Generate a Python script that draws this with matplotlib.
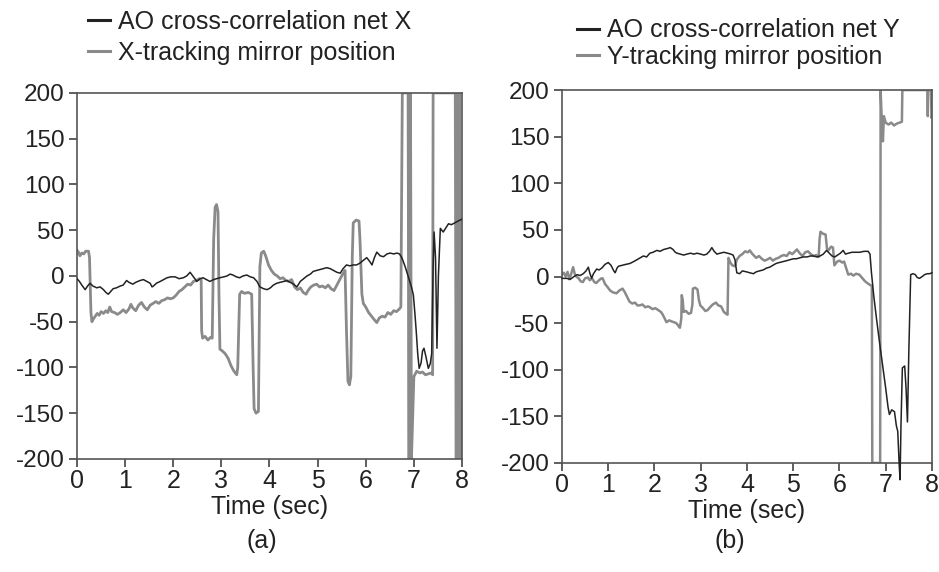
import matplotlib
matplotlib.use('Agg')
import matplotlib.pyplot as plt

plt.rcParams.update({
    'font.family': ['Liberation Sans', 'DejaVu Sans'],
    'axes.linewidth': 1.2,
})

BLACK = '#222222'
GRAY = '#8a8a8a'
SPINE = '#555555'

# panel (a): X axis
AX_GRAY_T = [0.00, 0.03, 0.06, 0.10, 0.14, 0.18, 0.24, 0.26, 0.29, 0.31, 0.34, 0.38, 0.42, 0.46,
             0.50, 0.55, 0.60, 0.64, 0.68, 0.72, 0.78, 0.84, 0.90, 0.96, 1.02, 1.08, 1.12, 1.16,
             1.22, 1.28, 1.34, 1.40, 1.46, 1.52, 1.58, 1.64, 1.70, 1.76, 1.82, 1.88, 1.94, 2.00,
             2.06, 2.12, 2.18, 2.24, 2.30, 2.36, 2.42, 2.48, 2.54, 2.58, 2.59, 2.61, 2.66, 2.72,
             2.78, 2.81, 2.84, 2.87, 2.90, 2.93, 2.95, 2.97, 3.02, 3.08, 3.14, 3.20, 3.26, 3.32,
             3.34, 3.38, 3.42, 3.48, 3.56, 3.63, 3.66, 3.68, 3.72, 3.77, 3.80, 3.83, 3.88, 3.92,
             3.98, 4.04, 4.10, 4.16, 4.22, 4.28, 4.34, 4.40, 4.46, 4.52, 4.58, 4.64, 4.70, 4.76,
             4.80, 4.86, 4.92, 4.98, 5.04, 5.10, 5.16, 5.22, 5.28, 5.34, 5.40, 5.46, 5.52, 5.57,
             5.60, 5.63, 5.66, 5.69, 5.72, 5.74, 5.80, 5.86, 5.88, 5.92, 5.95, 6.00, 6.06, 6.12,
             6.18, 6.23, 6.28, 6.34, 6.40, 6.46, 6.52, 6.58, 6.64, 6.70, 6.73, 6.76, 6.82, 6.88,
             6.90, 6.91, 6.92, 6.93, 6.95, 7.00, 7.06, 7.12, 7.18, 7.24, 7.30, 7.36, 7.39, 7.40,
             7.60, 7.86, 7.88, 7.89, 7.91, 7.92, 7.94, 7.95, 7.97, 7.98, 8.00]
AX_GRAY_V = [28, 26, 22, 25, 24, 27, 27, 20, -40, -50, -47, -44, -41, -43,
             -39, -41, -38, -40, -34, -39, -40, -42, -40, -37, -40, -36, -31, -35,
             -38, -32, -29, -34, -37, -32, -30, -28, -30, -27, -26, -24, -25, -24,
             -21, -17, -15, -12, -9, -10, -6, -5, -3, -4, -60, -68, -66, -70,
             -67, -68, 40, 75, 78, 70, -20, -80, -82, -85, -90, -98, -104, -108,
             -100, -20, -17, -19, -18, -20, -100, -145, -150, -148, 10, 25, 27, 22,
             12, 6, 2, 0, -3, -2, -5, -6, -4, -12, -15, -13, -18, -20,
             -16, -12, -10, -9, -12, -11, -13, -10, -14, -16, -10, -4, 2, 6,
             -60, -115, -119, -110, 20, 58, 61, 60, 40, -20, -30, -34, -40, -44,
             -48, -51, -46, -44, -45, -40, -42, -38, -39, -36, -34, 200, 200, 200,
             -200, 200, -200, 200, -200, -110, -104, -106, -105, -108, -107, -106, -108, 200,
             200, 200, -200, 200, -200, 200, -200, 200, -200, -150, -140]

AX_BLACK_T = [0.00, 0.05, 0.10, 0.17, 0.22, 0.27, 0.33, 0.41, 0.48, 0.55, 0.60, 0.65, 0.70, 0.75,
              0.82, 0.90, 0.96, 1.03, 1.08, 1.16, 1.22, 1.31, 1.38, 1.45, 1.52, 1.56, 1.59, 1.65,
              1.73, 1.80, 1.87, 1.95, 2.04, 2.12, 2.21, 2.28, 2.35, 2.42, 2.49, 2.56, 2.62, 2.69,
              2.76, 2.84, 2.90, 2.97, 3.05, 3.12, 3.18, 3.24, 3.31, 3.38, 3.45, 3.53, 3.60, 3.67,
              3.74, 3.80, 3.88, 3.95, 4.02, 4.08, 4.15, 4.22, 4.30, 4.36, 4.43, 4.50, 4.57, 4.64,
              4.71, 4.78, 4.85, 4.91, 4.98, 5.05, 5.12, 5.19, 5.26, 5.33, 5.40, 5.47, 5.53, 5.60,
              5.67, 5.74, 5.81, 5.88, 5.95, 6.02, 6.08, 6.13, 6.18, 6.23, 6.30, 6.37, 6.44, 6.51,
              6.58, 6.65, 6.70, 6.75, 6.82, 6.89, 6.95, 6.99, 7.02, 7.05, 7.08, 7.11, 7.15, 7.18,
              7.21, 7.25, 7.30, 7.34, 7.37, 7.40, 7.42, 7.45, 7.48, 7.51, 7.55, 7.58, 7.61, 7.66,
              7.72, 7.78, 7.85, 7.92, 8.00]
AX_BLACK_V = [-3, -6, -10, -15, -11, -8, -11, -13, -12, -15, -18, -20, -17, -14,
              -13, -11, -10, -5, -7, -9, -7, -5, -4, -6, -8, -12, -11, -8,
              -6, -4, -2, -1, -1, -3, -2, 0, 4, -1, -6, -3, -2, -4,
              -6, -4, -3, -2, -1, 0, 2, 1, -1, -2, 0, 1, -1, -2,
              -6, -12, -14, -15, -13, -10, -8, -7, -6, -5, -7, -9, -12, -6,
              -3, 0, 2, 5, 6, 7, 8, 9, 8, 6, 4, 3, 8, 12,
              11, 12, 12, 14, 17, 20, 16, 12, 20, 26, 22, 21, 24, 25,
              24, 25, 24, 20, 10, -2, -12, -21, -40, -61, -85, -101, -95, -82,
              -79, -88, -101, -96, -85, 10, 48, 20, -79, 0, 52, 50, 48, 52,
              57, 56, 58, 60, 62]

# panel (b): Y axis
BY_GRAY_T = [0.00, 0.04, 0.08, 0.12, 0.16, 0.20, 0.24, 0.28, 0.31, 0.36, 0.40, 0.45, 0.50, 0.56,
             0.60, 0.65, 0.70, 0.74, 0.80, 0.85, 0.88, 0.93, 0.98, 1.04, 1.10, 1.18, 1.24, 1.31,
             1.36, 1.41, 1.46, 1.52, 1.58, 1.63, 1.68, 1.74, 1.80, 1.86, 1.90, 1.96, 2.02, 2.08,
             2.14, 2.18, 2.22, 2.26, 2.32, 2.36, 2.42, 2.47, 2.52, 2.55, 2.58, 2.59, 2.61, 2.63,
             2.68, 2.74, 2.79, 2.82, 2.83, 2.88, 2.93, 2.96, 2.99, 3.05, 3.10, 3.15, 3.20, 3.26,
             3.33, 3.38, 3.44, 3.50, 3.55, 3.58, 3.60, 3.63, 3.68, 3.74, 3.78, 3.84, 3.90, 3.96,
             4.02, 4.06, 4.12, 4.20, 4.26, 4.32, 4.38, 4.43, 4.50, 4.56, 4.62, 4.68, 4.74, 4.80,
             4.86, 4.92, 4.98, 5.04, 5.08, 5.14, 5.20, 5.26, 5.32, 5.38, 5.44, 5.50, 5.55, 5.57,
             5.59, 5.64, 5.70, 5.73, 5.76, 5.82, 5.86, 5.89, 5.95, 6.00, 6.06, 6.10, 6.15, 6.19,
             6.25, 6.30, 6.36, 6.43, 6.50, 6.55, 6.60, 6.66, 6.70, 6.71, 6.88, 6.89, 6.92, 6.94,
             6.96, 7.00, 7.06, 7.12, 7.18, 7.24, 7.30, 7.35, 7.36, 7.90, 7.91, 7.92, 7.98, 7.99,
             8.00]
BY_GRAY_V = [2, 4, 0, 5, -3, 3, 10, 2, 0, -2, -5, -6, -2, -1,
             -4, -2, -6, -7, -4, -2, -2, -8, -11, -15, -17, -18, -15, -13,
             -17, -22, -27, -29, -28, -31, -31, -30, -33, -32, -33, -35, -34, -36,
             -38, -41, -45, -49, -47, -48, -49, -50, -53, -55, -45, -20, -25, -38,
             -37, -40, -39, -30, -13, -12, -14, -25, -31, -34, -37, -36, -33, -30,
             -28, -31, -32, -38, -40, -41, 20, 16, 12, 11, 18, 22, 24, 27,
             26, 28, 24, 20, 22, 19, 17, 18, 20, 17, 19, 20, 22, 23,
             22, 26, 24, 27, 29, 25, 22, 26, 27, 24, 22, 23, 21, 40,
             48, 46, 45, 30, 28, 32, 31, 12, 16, 17, 15, 16, 8, 2,
             3, 1, 3, 2, -2, -5, -7, -9, -10, -200, -200, 200, 160, 145,
             172, 165, 163, 165, 162, 164, 165, 166, 200, 200, 172, 200, 200, 170,
             172]

BY_BLACK_T = [0.00, 0.10, 0.18, 0.26, 0.33, 0.39, 0.46, 0.52, 0.57, 0.60, 0.64, 0.68, 0.75, 0.80,
              0.86, 0.93, 1.00, 1.06, 1.12, 1.15, 1.19, 1.22, 1.30, 1.38, 1.47, 1.55, 1.62, 1.69,
              1.76, 1.83, 1.90, 1.97, 2.05, 2.12, 2.20, 2.28, 2.34, 2.40, 2.45, 2.49, 2.56, 2.63,
              2.70, 2.78, 2.85, 2.92, 3.00, 3.07, 3.13, 3.19, 3.24, 3.29, 3.35, 3.42, 3.50, 3.58,
              3.65, 3.70, 3.74, 3.78, 3.84, 3.90, 3.99, 4.06, 4.14, 4.20, 4.27, 4.35, 4.42, 4.49,
              4.56, 4.63, 4.70, 4.78, 4.86, 4.93, 5.00, 5.07, 5.14, 5.22, 5.30, 5.37, 5.44, 5.51,
              5.58, 5.65, 5.72, 5.78, 5.84, 5.90, 5.96, 6.02, 6.08, 6.13, 6.19, 6.27, 6.35, 6.44,
              6.53, 6.62, 6.66, 6.69, 6.74, 6.80, 6.87, 6.94, 7.00, 7.05, 7.08, 7.13, 7.19, 7.23,
              7.26, 7.29, 7.31, 7.33, 7.36, 7.41, 7.44, 7.47, 7.50, 7.54, 7.59, 7.64, 7.68, 7.73,
              7.79, 7.84, 7.90, 7.95, 8.00]
BY_BLACK_V = [-2, -2, -3, 0, 2, 1, 3, 6, 10, 4, -2, 3, 8, 7,
              9, 13, 15, 12, 6, 4, 9, 11, 12, 13, 14, 16, 18, 20,
              22, 21, 25, 26, 28, 27, 29, 30, 31, 29, 26, 25, 24, 23,
              24, 25, 24, 25, 24, 23, 24, 27, 31, 27, 24, 25, 26, 25,
              24, 23, 18, 4, 3, 6, 5, 4, 3, 5, 6, 7, 9, 10,
              12, 14, 15, 16, 17, 18, 19, 19, 20, 21, 21, 22, 22, 21,
              22, 24, 28, 25, 22, 21, 23, 25, 28, 24, 25, 26, 26, 26,
              27, 27, 24, 5, -20, -45, -72, -98, -120, -140, -148, -143, -145, -160,
              -166, -200, -218, -160, -98, -96, -120, -156, -80, 2, 3, 2, -1, -2,
              0, 2, 3, 3, 4]

X_TICKS = [0, 1, 2, 3, 4, 5, 6, 7, 8]
Y_TICKS = [200, 150, 100, 50, 0, -50, -100, -150, -200]
LEGEND_A = ['AO cross-correlation net X', 'X-tracking mirror position']
LEGEND_B = ['AO cross-correlation net Y', 'Y-tracking mirror position']


def style_axes(ax):
    ax.set_xlim(0, 8)
    ax.set_ylim(-200, 200)
    ax.set_xticks(X_TICKS)
    ax.set_yticks(Y_TICKS)
    ax.set_yticklabels([str(v) for v in Y_TICKS], fontsize=17.5, color='#222')
    ax.set_xticklabels([str(v) for v in X_TICKS], fontsize=18, color='#222')
    for s in ax.spines.values():
        s.set_color(SPINE)
        s.set_linewidth(1.2)
    ax.tick_params(axis='both', direction='out', length=6, width=1.1, color='#333')
    ax.tick_params(axis='y', pad=3)
    ax.tick_params(axis='x', pad=1)
    ax.set_xlabel('Time (sec)', fontsize=18, color='#222', labelpad=2)


fig = plt.figure(figsize=(9.39, 5.72), dpi=100)
ax_a = fig.add_axes([0.082, 0.1976, 0.410, 0.640])
ax_b = fig.add_axes([0.5985, 0.1906, 0.394, 0.652])

ax_a.plot(AX_GRAY_T, AX_GRAY_V, color=GRAY, lw=2.0, label=LEGEND_A[1], zorder=2)
ax_a.plot(AX_BLACK_T, AX_BLACK_V, color=BLACK, lw=1.1, label=LEGEND_A[0], zorder=3)
ax_b.plot(BY_GRAY_T, BY_GRAY_V, color=GRAY, lw=1.8, label=LEGEND_B[1], zorder=2)
ax_b.plot(BY_BLACK_T, BY_BLACK_V, color=BLACK, lw=1.1, label=LEGEND_B[0], zorder=3,
          clip_on=False)

for ax in (ax_a, ax_b):
    style_axes(ax)

for ax, anchor, ls in ((ax_a, (0.094, 0.983), 0.3), (ax_b, (0.615, 0.968), 0.1)):
    h, l = ax.get_legend_handles_labels()
    leg = ax.legend(h[::-1], l[::-1], loc='upper left', bbox_to_anchor=anchor,
                    bbox_transform=fig.transFigure, frameon=False, fontsize=18,
                    handlelength=0.85, handletextpad=0.35, labelspacing=ls,
                    borderpad=0, borderaxespad=0)
    for line in leg.get_lines():
        line.set_linewidth(2.2)
    for txt in leg.get_texts():
        txt.set_color('#222')

fig.text(0.279, 0.054, '(a)', fontsize=18, ha='center', va='center', color='#222')
fig.text(0.777, 0.054, '(b)', fontsize=18, ha='center', va='center', color='#222')

fig.savefig('out.png', dpi=100, facecolor='white')
